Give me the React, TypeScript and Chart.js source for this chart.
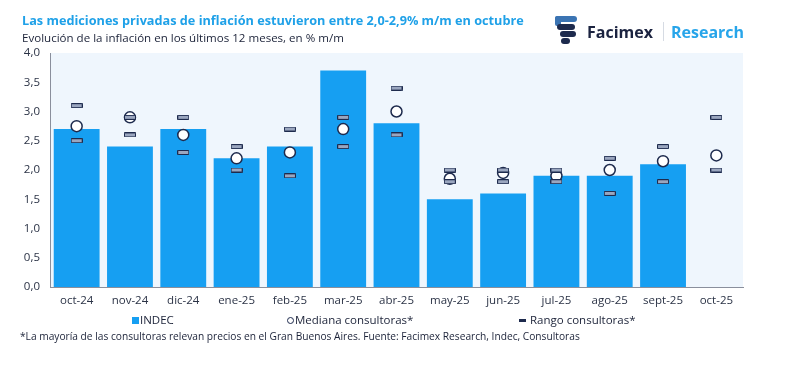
import React, { useEffect, useRef } from "react";
import { Chart, registerables } from "chart.js";

Chart.register(...registerables);

const categories = ["oct-24", "nov-24", "dic-24", "ene-25", "feb-25", "mar-25", "abr-25", "may-25", "jun-25", "jul-25", "ago-25", "sept-25", "oct-25"];
const indec = [2.7, 2.4, 2.7, 2.2, 2.4, 3.7, 2.8, 1.5, 1.6, 1.9, 1.9, 2.1, null];
const mediana = [2.75, 2.9, 2.6, 2.2, 2.3, 2.7, 3.0, 1.85, 1.95, 1.9, 2.0, 2.15, 2.25];
const rangoMax = [3.1, 2.9, 2.9, 2.4, 2.7, 2.9, 3.4, 2.0, 2.0, 2.0, 2.2, 2.4, 2.9];
const rangoMin = [2.5, 2.6, 2.3, 2.0, 1.9, 2.4, 2.6, 1.8, 1.8, 1.8, 1.6, 1.8, 2.0];
const yMin = 0;
const yMax = 4;
const yStep = 0.5;

const FONT = "'Open Sans', 'DejaVu Sans', sans-serif";
const BAR_BLUE = "#169ff2";
const NAVY = "#1d2a4d";

function makeDash(): HTMLCanvasElement {
  const c = document.createElement("canvas");
  c.width = 12;
  c.height = 5;
  const ctx = c.getContext("2d")!;
  ctx.fillStyle = "#9aa6bf";
  ctx.strokeStyle = NAVY;
  ctx.lineWidth = 1;
  ctx.beginPath();
  ctx.rect(0.5, 0.5, 11, 4);
  ctx.fill();
  ctx.stroke();
  return c;
}

const bgPlugin = {
  id: "plotBg",
  beforeDraw(chart: any) {
    const { ctx, chartArea } = chart;
    ctx.save();
    ctx.fillStyle = "#eff6fd";
    ctx.fillRect(chartArea.left, chartArea.top, chartArea.right - chartArea.left, chartArea.bottom - chartArea.top);
    ctx.restore();
  },
};

export default function App() {
  const ref = useRef<HTMLCanvasElement>(null);
  useEffect(() => {
    const dash = makeDash();
    const chart = new Chart(ref.current!, {
      type: "bar",
      data: {
        labels: categories,
        datasets: [
          {
            type: "line" as any,
            label: "Mediana consultoras*",
            data: mediana,
            showLine: false,
            pointStyle: "circle",
            pointRadius: 5.5,
            pointBackgroundColor: "#ffffff",
            pointBorderColor: NAVY,
            pointBorderWidth: 1.5,
            order: 3,
          },
          {
            type: "line" as any,
            label: "Rango consultoras*",
            data: rangoMax,
            showLine: false,
            pointStyle: dash,
            order: 1,
          },
          {
            type: "line" as any,
            label: "Rango min",
            data: rangoMin,
            showLine: false,
            pointStyle: dash,
            order: 1,
          },
          {
            label: "INDEC",
            data: indec,
            backgroundColor: BAR_BLUE,
            barPercentage: 0.86,
            categoryPercentage: 1,
            order: 5,
          },
        ],
      },
      options: {
        responsive: false,
        animation: false,
        layout: { padding: { left: 8, right: 57, top: 53, bottom: 59 } },
        plugins: { legend: { display: false }, tooltip: { enabled: false } },
        scales: {
          x: {
            grid: { display: false, drawTicks: false },
            border: { display: true, color: "#8a8f9c", width: 1 },
            ticks: { color: "#2b3346", font: { family: FONT, size: 11.5 }, padding: 7, maxRotation: 0 },
            afterFit: (s: any) => { s.height = 20; },
          },
          y: {
            min: yMin,
            max: yMax,
            grid: { display: false, drawTicks: false },
            border: { display: true, color: "#8a8f9c", width: 1 },
            ticks: {
              stepSize: yStep,
              color: "#2b3346",
              font: { family: FONT, size: 11.5 },
              padding: 10,
              callback: (v: any) => Number(v).toFixed(1).replace(".", ","),
            },
            afterFit: (s: any) => { s.width = 42; },
          },
        },
      },
      plugins: [bgPlugin],
    });
    return () => chart.destroy();
  }, []);

  const text = (style: React.CSSProperties, content: React.ReactNode) => (
    <div style={{ position: "absolute", whiteSpace: "nowrap", fontFamily: FONT, ...style }}>{content}</div>
  );

  return (
    <div style={{ position: "absolute", left: 0, top: 0, width: 800, height: 366, background: "#ffffff", overflow: "hidden" }}>
      <canvas ref={ref} width={800} height={366} style={{ position: "absolute", left: 0, top: 0 }} />
      {text({ left: 22, top: 11, fontSize: 12.7, fontWeight: 700, color: "#1fa1e8" }, "Las mediciones privadas de inflación estuvieron entre 2,0-2,9% m/m en octubre")}
      {text({ left: 22, top: 30, fontSize: 11.55, color: "#1b2238" }, "Evolución de la inflación en los últimos 12 meses, en % m/m")}
      <svg style={{ position: "absolute", left: 553, top: 14 }} width={28} height={32}>
        <rect x={2} y={2} width={22} height={6} rx={3} fill="#3b74b3" />
        <rect x={2} y={2} width={6} height={10} rx={2} fill="#3b74b3" />
        <rect x={4} y={10} width={18} height={6} rx={3} fill={NAVY} />
        <rect x={7} y={17} width={16} height={6} rx={3} fill={NAVY} />
        <rect x={8} y={24} width={9} height={6} rx={3} fill={NAVY} />
      </svg>
      {text({ left: 587, top: 21, fontSize: 16, fontWeight: 700, color: "#1b2340" }, "Facimex")}
      <div style={{ position: "absolute", left: 663, top: 22, width: 1, height: 19, background: "#d6dbe3" }} />
      {text({ left: 671, top: 21, fontSize: 16, fontWeight: 700, color: "#27a5ea" }, "Research")}
      {/* legend */}
      <div style={{ position: "absolute", left: 132, top: 317, width: 7, height: 7, background: BAR_BLUE }} />
      {text({ left: 140, top: 312, fontSize: 11.5, color: "#1b2238" }, "INDEC")}
      <div style={{ position: "absolute", left: 287, top: 317, width: 5, height: 5, borderRadius: "50%", border: `1px solid ${NAVY}` }} />
      {text({ left: 295, top: 312, fontSize: 11.5, color: "#1b2238" }, "Mediana consultoras*")}
      <div style={{ position: "absolute", left: 519, top: 319, width: 7, height: 3, background: NAVY }} />
      {text({ left: 530, top: 312, fontSize: 11.5, color: "#1b2238" }, "Rango consultoras*")}
      {text({ left: 20, top: 329, fontSize: 10.2, color: "#1b2238" }, "*La mayoría de las consultoras relevan precios en el Gran Buenos Aires. Fuente: Facimex Research, Indec, Consultoras")}
    </div>
  );
}
